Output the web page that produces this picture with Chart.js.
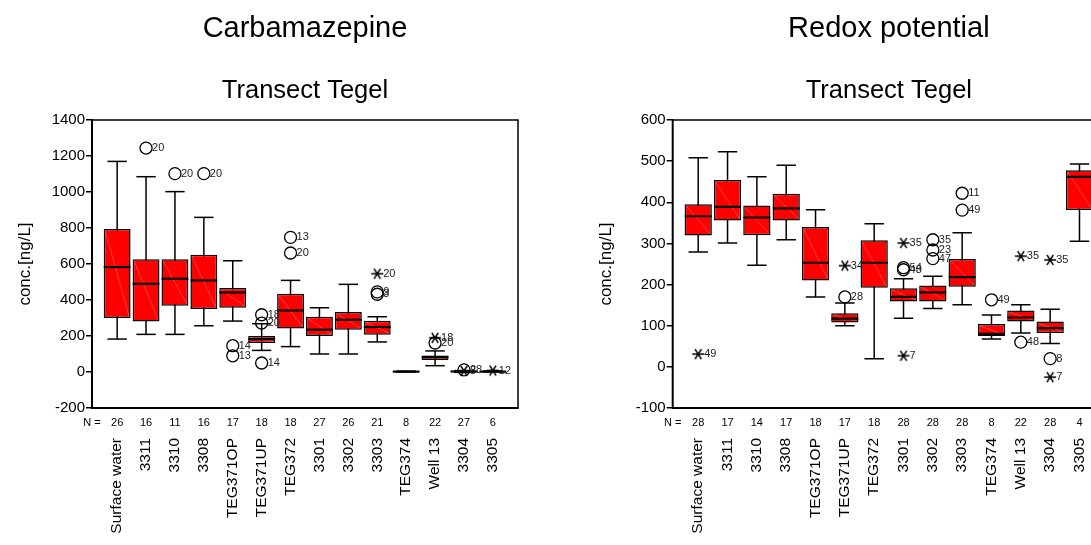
<!DOCTYPE html>
<html><head><meta charset="utf-8">
<script src="https://cdn.jsdelivr.net/npm/chart.js@4.4.1/dist/chart.umd.min.js"></script>
<style>
html,body{margin:0;padding:0;background:#fff;overflow:hidden;width:1091px;height:545px;position:relative;}
#c1{position:absolute;left:0;top:0;}
#c2{position:absolute;left:545px;top:0;}
</style></head><body>
<canvas id="c1" width="545" height="545"></canvas>
<canvas id="c2" width="587" height="545"></canvas>
<script>
const FONT = "'Liberation Sans', Arial, Helvetica, sans-serif";

const categories = ['Surface water','3311','3310','3308','TEG371OP','TEG371UP','TEG372','3301','3302','3303','TEG374','Well 13','3304','3305'];

// Carbamazepine (ng/L)
const carbN      = [26, 16, 11, 16, 17, 18, 18, 27, 26, 21, 8, 22, 27, 6];
const carbLow    = [183, 209, 209, 257, 283, 120, 141, 100, 100, 167, 0, 35, -2, 0];
const carbQ1     = [300, 281, 368, 350, 357, 161, 241, 200, 235, 207, 0, 67, 0, 0];
const carbMedian = [583, 490, 518, 509, 442, 183, 342, 235, 290, 250, 2, 83, 3, 2];
const carbQ3     = [794, 626, 626, 652, 466, 200, 435, 307, 334, 285, 4, 92, 6, 4];
const carbHigh   = [1170, 1085, 1002, 859, 618, 268, 509, 357, 487, 307, 5, 117, 8, 6];
// [category index, value, case label, kind: 'o' outlier, '*' extreme]
const carbOutliers = [
  [1, 1244, '20', 'o'], [2, 1102, '20', 'o'], [3, 1102, '20', 'o'],
  [4, 146, '14', 'o'], [4, 90, '13', 'o'],
  [5, 318, '18', 'o'], [5, 272, '20', 'o'], [5, 50, '14', 'o'],
  [6, 748, '13', 'o'], [6, 661, '20', 'o'],
  [9, 546, '20', '*'], [9, 445, '9', 'o'], [9, 432, '3', 'o'],
  [11, 190, '18', '*'], [11, 161, '20', 'o'],
  [12, 12, '28', 'o'], [12, 6, '8', '*'],
  [13, 8, '12', '*']
];
const carbTicks = [-200, 0, 200, 400, 600, 800, 1000, 1200, 1400];

// Redox potential
const redoxN      = [28, 17, 14, 17, 18, 17, 18, 28, 28, 28, 8, 22, 28, 4];
const redoxLow    = [279, 301, 247, 309, 170, 100, 20, 118, 142, 151, 68, 82, 57, 305];
const redoxQ1     = [319, 356, 320, 356, 210, 108, 192, 159, 159, 195, 75, 110, 82, 381];
const redoxMedian = [366, 389, 363, 385, 253, 117, 253, 170, 181, 218, 80, 120, 94, 462];
const redoxQ3     = [395, 454, 392, 421, 340, 130, 308, 191, 198, 262, 104, 137, 110, 478];
const redoxHigh   = [508, 523, 462, 490, 382, 155, 348, 214, 220, 326, 126, 151, 140, 493];
const redoxOutliers = [
  [0, 31, '49', '*'],
  [5, 170, '28', 'o'], [5, 246, '34', '*'],
  [7, 301, '35', '*'], [7, 241, '54', 'o'], [7, 236, '48', 'o'], [7, 27, '7', '*'],
  [8, 309, '35', 'o'], [8, 284, '23', 'o'], [8, 263, '47', 'o'],
  [9, 422, '11', 'o'], [9, 381, '49', 'o'],
  [10, 163, '49', 'o'],
  [11, 269, '35', '*'], [11, 60, '48', 'o'],
  [12, 260, '35', '*'], [12, 20, '8', 'o'], [12, -25, '7', '*']
];
const redoxTicks = [-100, 0, 100, 200, 300, 400, 500, 600];

function makeStar() {
  const c = document.createElement('canvas');
  c.width = 14; c.height = 14;
  const g = c.getContext('2d');
  g.strokeStyle = '#000'; g.lineWidth = 1.4;
  g.beginPath();
  g.moveTo(1, 7); g.lineTo(13, 7);
  g.moveTo(3.8, 2); g.lineTo(10.2, 12);
  g.moveTo(10.2, 2); g.lineTo(3.8, 12);
  g.stroke();
  return c;
}
const STAR = makeStar();

const decorPlugin = {
  id: 'decor',
  afterDatasetDraw(chart, args) {
    const ds = chart.data.datasets[args.index];
    if (ds.role !== 'box') return;
    const ctx = chart.ctx;
    ctx.save();
    ctx.strokeStyle = 'rgba(255,120,120,0.85)';
    ctx.lineWidth = 0.6;
    args.meta.data.forEach(el => {
      const p = el.getProps(['x', 'y', 'base', 'width'], true);
      const top = Math.min(p.y, p.base), bot = Math.max(p.y, p.base);
      if (bot - top < 5) return;
      ctx.beginPath();
      ctx.moveTo(p.x - p.width / 2 + 1.5, top + 1.5);
      ctx.lineTo(p.x + p.width / 2 - 1.5, bot - 1.5);
      ctx.stroke();
    });
    ctx.restore();
  },
  afterDatasetsDraw(chart) {
    const ctx = chart.ctx;
    ctx.save();
    ctx.font = '11px ' + FONT;
    ctx.fillStyle = '#222';
    ctx.textBaseline = 'middle';
    ctx.textAlign = 'left';
    chart.data.datasets.forEach((ds, i) => {
      if (ds.role !== 'outlier') return;
      chart.getDatasetMeta(i).data.forEach((el, j) => {
        ctx.fillText(ds.data[j].label, el.x + 6, el.y);
      });
    });
    const a = chart.chartArea;
    ctx.strokeStyle = '#000';
    ctx.lineWidth = 1.5;
    ctx.beginPath();
    ctx.moveTo(a.left, a.top); ctx.lineTo(a.right, a.top); ctx.lineTo(a.right, a.bottom);
    ctx.stroke();
    ctx.lineWidth = 2;
    ctx.beginPath();
    ctx.moveTo(a.left, a.top - 0.75); ctx.lineTo(a.left, a.bottom); ctx.lineTo(a.right + 0.75, a.bottom);
    ctx.stroke();
    ctx.restore();
  }
};

function buildChart(id, title, n, low, q1, med, q3, high, outliers, yTicks, padLeft) {
  const idx = categories.map((_, i) => i);
  const xMin = -0.87, xMax = categories.length - 1 + 0.87;
  const datasets = [
    { type: 'bar', role: 'whisker', data: idx.map(i => ({ x: i, y: [low[i], high[i]] })),
      backgroundColor: '#000', borderWidth: 0, maxBarThickness: 1.5, grouped: false, order: 4 },
    { type: 'bar', role: 'box', data: idx.map(i => ({ x: i, y: [q1[i], q3[i]] })),
      backgroundColor: '#ff0000', borderColor: '#000', borderWidth: 1.5, borderSkipped: false,
      barPercentage: 0.93, categoryPercentage: 1, grouped: false, order: 3 },
    { type: 'scatter', role: 'cap', data: idx.flatMap(i => [{ x: i, y: low[i] }, { x: i, y: high[i] }]),
      pointStyle: 'line', pointRadius: 9.7, pointBorderColor: '#000', pointBorderWidth: 1.5, order: 2 },
    { type: 'scatter', role: 'median', data: idx.map(i => ({ x: i, y: med[i] })),
      pointStyle: 'line', pointRadius: 13.4, pointBorderColor: '#000', pointBorderWidth: 2.2, order: 1 },
    { type: 'scatter', role: 'outlier',
      data: outliers.filter(o => o[3] === 'o').map(o => ({ x: o[0], y: o[1], label: o[2] })),
      pointStyle: 'circle', pointRadius: 6, pointBorderColor: '#000', pointBorderWidth: 1.3,
      pointBackgroundColor: 'rgba(0,0,0,0)', order: 0 },
    { type: 'scatter', role: 'outlier',
      data: outliers.filter(o => o[3] === '*').map(o => ({ x: o[0], y: o[1], label: o[2] })),
      pointStyle: STAR, pointRadius: 6, order: 0 }
  ];
  return new Chart(document.getElementById(id), {
    type: 'bar',
    data: { datasets },
    plugins: [decorPlugin],
    options: {
      responsive: false, animation: false, devicePixelRatio: 1, events: [],
      layout: { padding: { left: padLeft, right: 27, top: 0, bottom: 0 } },
      plugins: {
        legend: { display: false }, tooltip: { enabled: false },
        title: { display: true, text: title, fullSize: false, color: '#000',
          font: { family: FONT, size: 29, weight: 'normal' }, padding: { top: 12, bottom: 29 } },
        subtitle: { display: true, text: 'Transect Tegel', fullSize: false, color: '#000',
          font: { family: FONT, size: 25.5, weight: 'normal' }, padding: { top: 0, bottom: 13.6 } }
      },
      scales: {
        x: {
          type: 'linear', min: xMin, max: xMax, position: 'bottom', offset: false, weight: 1,
          afterBuildTicks: s => { s.ticks = idx.map(i => ({ value: i })); },
          ticks: { autoSkip: false, minRotation: 90, maxRotation: 90, color: '#000', padding: 8,
            font: { family: FONT, size: 15.5 },
            callback: (v, i) => categories[i] },
          grid: { display: false, drawTicks: false, tickLength: 0 }, border: { display: false },
          afterFit: s => { s.height = 115; }
        },
        xn: {
          type: 'linear', min: xMin, max: xMax, position: 'bottom', offset: false, weight: 0,
          afterBuildTicks: s => { s.ticks = [{ value: xMin }].concat(idx.map(i => ({ value: i }))); },
          ticks: { autoSkip: false, minRotation: 0, maxRotation: 0, color: '#000', padding: 8.4,
            font: { family: FONT, size: 11 },
            callback: (v, i) => i === 0 ? 'N =' : String(n[i - 1]) },
          grid: { display: false, drawTicks: false, tickLength: 0 }, border: { display: false },
          afterFit: s => { s.height = 22; }
        },
        y: {
          type: 'linear', min: yTicks[0], max: yTicks[yTicks.length - 1],
          afterBuildTicks: s => { s.ticks = yTicks.map(v => ({ value: v })); },
          ticks: { color: '#000', padding: 1, font: { family: FONT, size: 15 }, callback: v => String(v) },
          grid: { display: true, drawOnChartArea: false, drawTicks: true, tickLength: 6, color: '#000', lineWidth: 1.5 },
          border: { display: false },
          title: { display: true, text: 'conc.[ng/L]', color: '#000',
            font: { family: FONT, size: 17, weight: 'normal' }, padding: { top: 15, bottom: 0 } },
          afterFit: s => { s.width = 92; }
        }
      }
    }
  });
}

buildChart('c1', 'Carbamazepine', carbN, carbLow, carbQ1, carbMedian, carbQ3, carbHigh, carbOutliers, carbTicks, 0);
buildChart('c2', 'Redox potential', redoxN, redoxLow, redoxQ1, redoxMedian, redoxQ3, redoxHigh, redoxOutliers, redoxTicks, 35.7);
</script>
</body></html>
